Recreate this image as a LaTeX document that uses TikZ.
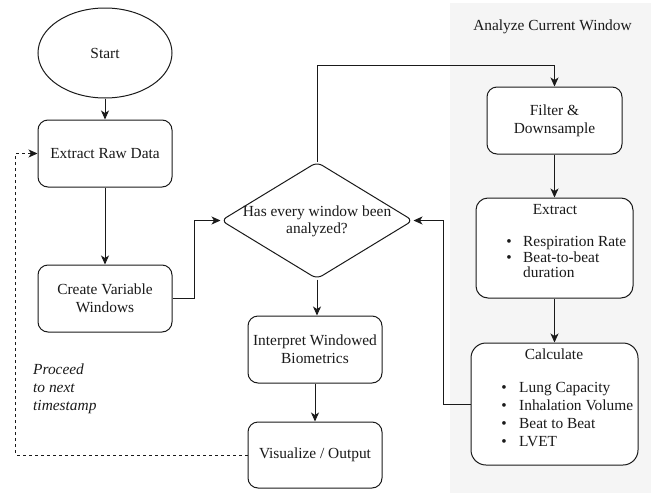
\documentclass[tikz,border=0pt]{standalone}
\usepackage{fontspec}
\setmainfont{Liberation Serif}
\usetikzlibrary{shapes.geometric,arrows.meta}
\definecolor{ink}{HTML}{1A1A1A}
\definecolor{panel}{HTML}{F5F5F5}
\begin{document}
\begin{tikzpicture}[x=1pt,y=-1pt,
  every node/.style={font=\fontsize{15.4}{18}\selectfont, text=ink},
  box/.style={draw=ink, line width=1pt, fill=white, rounded corners=10pt, align=center, inner sep=0pt},
  arr/.style={draw=ink, line width=1pt, -{Stealth[length=9pt,width=8pt,inset=2.5pt]}},
  txt/.style={inner sep=0pt, anchor=base west},
  bul/.style={inner sep=0pt, anchor=base}]
\useasboundingbox (0,0) rectangle (651,493);
\fill[panel] (450,3) rectangle (651,493);
\node[inner sep=0pt] (title) at (552.5,27) {Analyze Current Window};

\node[draw=ink, line width=1pt, ellipse, fill=white, minimum width=134pt, minimum height=90pt, inner sep=0pt] (start) at (105,53) {Start};
\node[box, minimum width=134pt, minimum height=67pt] (erd) at (105,153.5) {Extract Raw Data};
\node[box, minimum width=134pt, minimum height=67pt] (cvw) at (105,298.5) {Create Variable\\Windows};
\node[draw=ink, line width=1pt, diamond, fill=white, minimum width=192pt, minimum height=117pt, inner sep=0pt, rounded corners=6pt] (dia) at (317,220.5) {};
\node[inner sep=0pt, align=center, font=\fontsize{15.4}{17}\selectfont] (diatext) at (317,221) {Has every window been\\analyzed?};
\node[box, minimum width=134pt, minimum height=67pt] (interp) at (315,349.5) {Interpret Windowed\\Biometrics};
\node[box, minimum width=134pt, minimum height=66pt] (vis) at (315,455) {Visualize / Output};

\node[box, minimum width=135pt, minimum height=67pt] (filt) at (554.5,120.5) {Filter \&\\Downsample};
\node[box, rounded corners=12pt, minimum width=157pt, minimum height=100pt] (ext) at (554.5,248) {};
\node[inner sep=0pt] (exttitle) at (555,210) {Extract};
\node[bul] (eb1) at (509,246) {\textbullet};
\node[txt] (et1) at (523,246) {Respiration Rate};
\node[bul] (eb2) at (509,262) {\textbullet};
\node[txt] (et2) at (523,262) {Beat-to-beat};
\node[txt] (et3) at (523,277.5) {duration};

\node[box, rounded corners=15pt, minimum width=167pt, minimum height=122pt] (calc) at (554.5,404) {};
\node[inner sep=0pt] (calctitle) at (554,354) {Calculate};
\node[bul] (cb1) at (504,392) {\textbullet};
\node[txt] (ct1) at (519,392) {Lung Capacity};
\node[bul] (cb2) at (504,410) {\textbullet};
\node[txt] (ct2) at (519,410) {Inhalation Volume};
\node[bul] (cb3) at (504,428) {\textbullet};
\node[txt] (ct3) at (519,428) {Beat to Beat};
\node[bul] (cb4) at (504,446) {\textbullet};
\node[txt] (ct4) at (519,446) {LVET};

\node[inner sep=0pt, anchor=north west, align=left, font=\fontsize{15.4}{18}\selectfont\itshape] (proceed) at (33,364) {Proceed\\to next\\timestamp};

\coordinate (topy) at (317,65);
\draw[arr] (start) -- (erd);
\draw[arr] (erd) -- (cvw);
\draw[arr] (cvw.east) -- ++(22,0) |- (dia.west);
\draw[arr] (dia.north) -- (topy) -| (filt.north);
\draw[arr] (filt) -- (ext);
\draw[arr] (ext) -- (calc);
\draw[arr] (calc.west) -- ++(-27,0) |- (dia.east);
\draw[arr] (dia.south) -- (dia.south |- interp.north);
\draw[arr] (interp) -- (vis);
\draw[arr, dash pattern=on 3pt off 3pt] (vis.west) -- ++(-232,0) |- (erd.west);
\end{tikzpicture}
\end{document}
